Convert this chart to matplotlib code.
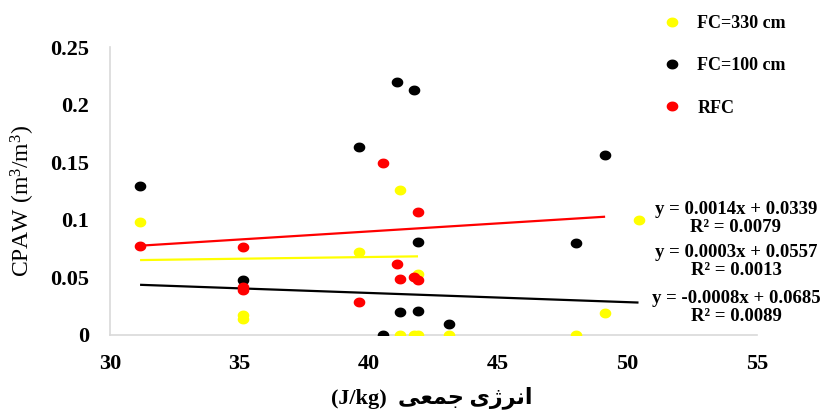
import numpy as np
import matplotlib.pyplot as plt
from matplotlib.path import Path
from matplotlib.lines import Line2D

# cumulative energy (J/kg) vs CPAW (m3/m3) for three water-retention definitions
fc330_x = [31.16, 35.12, 35.12, 39.62, 41.2, 41.2, 41.74, 41.9, 41.9, 43.1, 48.02, 49.13, 50.42]
fc330_y = [0.098, 0.017, 0.0136, 0.072, 0.126, 0.0, 0.0, 0.0, 0.053, 0.0, 0.0, 0.019, 0.0998]

fc100_x = [31.16, 35.12, 39.62, 40.53, 41.07, 41.74, 41.2, 41.9, 41.9, 43.1, 48.02, 49.13]
fc100_y = [0.129, 0.048, 0.163, 0.0, 0.220, 0.213, 0.020, 0.081, 0.021, 0.0095, 0.0796, 0.156]

rfc_x = [31.16, 35.12, 35.12, 35.12, 39.62, 40.53, 41.07, 41.2, 41.74, 41.9, 41.9]
rfc_y = [0.0775, 0.0767, 0.042, 0.039, 0.0286, 0.1496, 0.0614, 0.0483, 0.050, 0.048, 0.1068]

series_labels = ["FC=330 cm", "FC=100 cm", "RFC"]
series_colors = ["#FFFF00", "#000000", "#FF0000"]

# linear trendlines (slope, intercept, R2) and the x span each one covers
trend_slope = [0.0014, 0.0003, -0.0008]
trend_icpt = [0.0339, 0.0557, 0.0685]
trend_r2 = ["0.0079", "0.0013", "0.0089"]
trend_colors = ["#FF0000", "#FFFF00", "#000000"]
trend_span = [(31.16, 49.13), (31.16, 41.9), (31.16, 50.42)]

x_ticks = [30, 35, 40, 45, 50, 55]
y_ticks = [0, 0.05, 0.1, 0.15, 0.2, 0.25]
y_ticklabels = ["0", "0.05", "0.1", "0.15", "0.2", "0.25"]

serif = "Liberation Serif"
plt.rcParams["font.family"] = [serif, "DejaVu Sans"]
plt.rcParams["mathtext.fontset"] = "custom"
plt.rcParams["mathtext.rm"] = serif
plt.rcParams["mathtext.it"] = serif + ":italic"
plt.rcParams["mathtext.bf"] = serif + ":bold"

# slightly flattened dot marker
t = np.linspace(0, 2 * np.pi, 48)
oval = Path(np.column_stack([np.cos(t), 0.85 * np.sin(t)]), closed=True)

fig = plt.figure(figsize=(8.28, 4.12), dpi=100)
ax = fig.add_axes([0.1329, 0.1869, 0.7814, 0.699])

for (x0, x1), m, b, c in zip(trend_span, trend_slope, trend_icpt, trend_colors):
    xs = np.array([x0, x1])
    ax.plot(xs, m * xs + b, color=c, lw=1.6, zorder=2, solid_capstyle="butt")

data = [(fc330_x, fc330_y), (fc100_x, fc100_y), (rfc_x, rfc_y)]
for (xs, ys), c in zip(data, series_colors):
    ax.scatter(xs, ys, s=70, marker=oval, color=c, linewidths=0, zorder=3)

ax.set_xlim(30, 55)
ax.set_ylim(0, 0.25)
ax.set_xticks(x_ticks)
ax.set_yticks(y_ticks)
ax.set_yticklabels(y_ticklabels)
ax.tick_params(length=0, labelsize=16)
ax.tick_params(axis="y", pad=15)
ax.tick_params(axis="x", pad=14)
for lab in ax.get_xticklabels() + ax.get_yticklabels():
    lab.set_fontweight("bold")

for side in ["top", "right"]:
    ax.spines[side].set_visible(False)
for side in ["left", "bottom"]:
    ax.spines[side].set_color("#d9d9d9")
    ax.spines[side].set_linewidth(1.2)

ax.set_ylabel("CPAW (m$^\\mathrm{3}$/m$^\\mathrm{3}$)", fontsize=17)
ax.yaxis.set_label_coords(-0.113, 0.465)

# Persian label in presentation forms, laid out right-to-left
fa_label = "\uFBFD\uFECC\uFEE4\uFE9F \uFBFC\uFB8A\uFEAE\uFEE7\uFE8D"
ax.set_xlabel("(J/kg)  " + fa_label, fontsize=16, fontweight="bold")
ax.xaxis.set_label_coords(0.497, -0.178)

# trendline equations
eq_y = [209, 251.7, 298]
for m, b, r2, yy in zip(trend_slope, trend_icpt, trend_r2, eq_y):
    txt = f"y = {m:.4f}x + {b:.4f}\nR\u00b2 = {r2}"
    fig.text(736 / 828, 1 - (yy + 9.5) / 412, txt, ha="center", va="center",
             fontsize=13.5, fontweight="bold", linespacing=1.05)

handles = [Line2D([], [], ls="none", marker=oval, markersize=8.4, color=c,
                  markeredgewidth=0) for c in series_colors]
ax.legend(handles, series_labels, loc="upper left", bbox_to_anchor=(663 / 828, 1 - 15 / 412),
          bbox_transform=fig.transFigure, frameon=False, borderpad=0, borderaxespad=0,
          handlelength=1.0, handletextpad=0.9, labelspacing=1.4,
          prop={"family": serif, "weight": "bold", "size": 13})

fig.savefig("out.png", dpi=100)
